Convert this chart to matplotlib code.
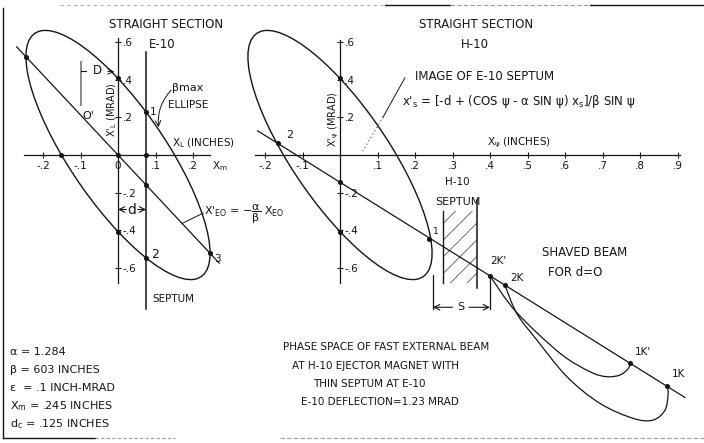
import numpy as np
import matplotlib
matplotlib.use("Agg")
import matplotlib.pyplot as plt
from matplotlib.patches import Ellipse, Rectangle, PathPatch
from matplotlib.path import Path
from matplotlib.lines import Line2D

plt.rcParams['font.family'] = ['DejaVu Sans']
plt.rcParams['mathtext.fontset'] = 'dejavusans'
plt.rcParams['mathtext.default'] = 'regular'
plt.rcParams['hatch.linewidth'] = 0.6

W, H = 704, 443
SX, SY = 375.0, 188.0      # pixels per inch, pixels per mrad
INK = '#151515'

# lattice at the straight sections
alpha = 1.284
beta_in = 603.0            # inches
emit = 0.1                 # inch-mrad
x_m = 0.245
d_c = 0.125
deflection = 1.23

# E-10 axes
e_xticks = [-0.2, -0.1, 0.0, 0.1, 0.2]
e_xlabels = ['-.2', '-.1', '0', '.1', '.2']
yticks = [0.6, 0.4, 0.2, -0.2, -0.4, -0.6]
ylabels = ['.6', '.4', '.2', '-.2', '-.4', '-.6']
septum_x = 0.075
septum_xp = [0.55, -0.82]

# H-10 axes
h_xticks = [-0.2, -0.1, 0.1, 0.2, 0.3, 0.4, 0.5, 0.6, 0.7, 0.8, 0.9]
h_xlabels = ['-.2', '-.1', '.1', '.2', '.3', '.4', '.5', '.6', '.7', '.8', '.9']
image_x = [-0.22, 0.92]
image_xp = [0.129, -1.290]
image_pts_x = [-0.165, 0.237]
image_pts_xp = [0.064, -0.447]
h_septum_x = [0.275, 0.365]
h_septum_xp = [-0.30, -0.68]
k_names = ["2K'", "2K", "1K'", "1K"]
k_x = [0.400, 0.440, 0.773, 0.872]
k_xp = [-0.643, -0.693, -1.107, -1.230]

# shaved beam after the kick
loop_kp_x = [0.400, 0.470, 0.587, 0.667, 0.711, 0.747, 0.769, 0.773]
loop_kp_xp = [-0.643, -0.835, -1.055, -1.153, -1.179, -1.170, -1.135, -1.107]
loop_k_x = [0.440, 0.472, 0.525, 0.605, 0.693, 0.782, 0.835, 0.867, 0.875, 0.872]
loop_k_xp = [-0.693, -0.845, -0.984, -1.179, -1.321, -1.401, -1.410, -1.356, -1.268, -1.230]

beta = beta_in / 1000.0    # inch per mrad
gamma = (1 + alpha ** 2) / beta

fig = plt.figure(figsize=(W / 100, H / 100), dpi=100)
fig.patch.set_facecolor('white')


def make_axes(x0, y0, xlim, ylim):
    # x0, y0: pixel position of the origin, measured from the top left
    left = x0 + xlim[0] * SX
    right = x0 + xlim[1] * SX
    top = y0 - ylim[1] * SY
    bottom = y0 - ylim[0] * SY
    ax = fig.add_axes([left / W, 1 - bottom / H, (right - left) / W, (bottom - top) / H])
    ax.set_xlim(xlim)
    ax.set_ylim(ylim)
    ax.patch.set_visible(False)
    for s in ['top', 'left']:
        ax.spines[s].set_visible(False)
    ax.spines['bottom'].set_position(('data', 0))
    ax.spines['right'].set_position(('data', 0))
    for s in ['bottom', 'right']:
        ax.spines[s].set_linewidth(0.9)
        ax.spines[s].set_color(INK)
    ax.xaxis.tick_bottom()
    ax.yaxis.tick_right()
    ax.tick_params(direction='inout', length=5, width=0.8, colors=INK,
                   labelsize=7.5, pad=2)
    ax.tick_params(axis='y', pad=1)
    return ax


def twiss_ellipse(ax):
    m = np.array([[gamma, alpha], [alpha, beta]]) / emit
    w, v = np.linalg.eigh(m)
    semi = 1 / np.sqrt(w)
    ang = np.degrees(np.arctan2(v[1, 0], v[0, 0]))
    ax.add_patch(Ellipse((0, 0), 2 * semi[0], 2 * semi[1], angle=ang,
                         fill=False, ec=INK, lw=1.0))


def ellipse_xp(x):
    # upper and lower x' of the ellipse at a given x
    r = np.sqrt(emit * beta - x ** 2)
    return (-alpha * x + r) / beta, (-alpha * x - r) / beta


def smooth(xs, ys):
    pts = np.column_stack([xs, ys])
    verts = [pts[0]]
    codes = [Path.MOVETO]
    for i in range(len(pts) - 1):
        p0 = pts[i - 1] if i > 0 else pts[i]
        p1, p2 = pts[i], pts[i + 1]
        p3 = pts[i + 2] if i + 2 < len(pts) else pts[i + 1]
        verts += [p1 + (p2 - p0) / 6, p2 - (p3 - p1) / 6, p2]
        codes += [Path.CURVE4] * 3
    return Path(verts, codes)


def put(x, y, s, size=7.5, ha='left', **kw):
    fig.text(x / W, 1 - y / H, s, fontsize=size, ha=ha, va='center', color=INK, **kw)


def frame_line(x0, y0, x1, y1, color=INK, lw=1.0, ls='-'):
    fig.add_artist(Line2D([x0 / W, x1 / W], [1 - y0 / H, 1 - y1 / H],
                          color=color, lw=lw, ls=ls, transform=fig.transFigure))


# ---------------- E-10 ----------------
ax_e = make_axes(118, 155, (-0.3, 0.3), (-1.5, 0.75))
ax_e.spines['bottom'].set_bounds(-0.25, 0.245)
ax_e.spines['right'].set_bounds(-0.68, 0.62)
ax_e.set_xticks(e_xticks, e_xlabels)
ax_e.set_yticks(yticks, ylabels)
twiss_ellipse(ax_e)

slope = -alpha / beta
ax_e.plot([-0.27, 0.27], [-0.27 * slope, 0.27 * slope], color=INK, lw=0.9)
ax_e.plot([septum_x, septum_x], septum_xp, color=INK, lw=1.1)

up, lo = ellipse_xp(septum_x)
xr = np.sqrt(emit * beta)
dots_x = [0, 0, 0, septum_x, septum_x, septum_x, xr, -xr, -np.sqrt(emit / gamma), septum_x]
dots_y = [0, ellipse_xp(0)[0], ellipse_xp(0)[1], up, lo, 0, -alpha * xr / beta,
          alpha * xr / beta, 0, slope * septum_x]
ax_e.plot(dots_x, dots_y, 'o', ms=2.6, color=INK)
ax_e.text(septum_x + 0.01, up, '1', fontsize=7.5, va='center', color=INK)
ax_e.text(septum_x + 0.012, lo + 0.02, '2', fontsize=9, va='center', color=INK)
ax_e.text(xr + 0.012, -alpha * xr / beta - 0.03, '3', fontsize=7.5, va='center', color=INK)

# D marker and O'
ax_e.plot([-0.099, -0.099], [0.266, 0.495], color='#8a8a8a', lw=1.4)
ax_e.plot([-0.099, -0.085], [0.447, 0.447], color=INK, lw=0.8)
ax_e.text(-0.056, 0.447, 'D', fontsize=8.5, ha='center', va='center', color=INK)
ax_e.annotate('', xy=(-0.002, 0.44), xytext=(-0.035, 0.447),
              arrowprops=dict(arrowstyle='->', lw=0.7, color=INK))
ax_e.text(-0.08, 0.21, "O'", fontsize=8, ha='center', va='center', color=INK)

# d dimension
d_level = -0.29
ax_e.text(septum_x / 2, d_level, 'd', fontsize=10, ha='center', va='center', color=INK)
for xe in (0.0, septum_x):
    ax_e.annotate('', xy=(xe, d_level), xytext=(septum_x / 2, d_level),
                  arrowprops=dict(arrowstyle='->', lw=0.8, color=INK, shrinkA=4, shrinkB=0))

# leaders
ax_e.annotate('', xy=(0.109, 0.133), xytext=(0.147, 0.356),
              arrowprops=dict(arrowstyle='->', lw=0.7, color=INK,
                              connectionstyle='arc3,rad=0.25'))
ax_e.plot([0.171, 0.227], [-0.364, -0.309], color=INK, lw=0.7)

ax_e.text(-0.016, 0.24, "X'$_L$ (MRAD)", rotation=90, fontsize=7, ha='center',
          va='center', color=INK)

# ---------------- H-10 ----------------
ax_h = make_axes(340, 155, (-0.3, 0.97), (-1.5, 0.75))
ax_h.spines['bottom'].set_bounds(-0.227, 0.907)
ax_h.spines['right'].set_bounds(-0.68, 0.61)
ax_h.set_xticks(h_xticks, h_xlabels)
ax_h.set_yticks(yticks, ylabels)
twiss_ellipse(ax_h)

ax_h.plot(image_x, image_xp, color=INK, lw=0.9)
ax_h.add_patch(Rectangle((h_septum_x[0], h_septum_xp[1]), h_septum_x[1] - h_septum_x[0],
                         h_septum_xp[0] - h_septum_xp[1], fill=False, hatch='//',
                         ec='#555555', lw=0))
ax_h.plot([h_septum_x[0]] * 2, h_septum_xp, color=INK, lw=1.0)
ax_h.plot([h_septum_x[1]] * 2, [-0.24, -0.71], color=INK, lw=1.1)

ax_h.add_patch(PathPatch(smooth(loop_kp_x, loop_kp_xp), fill=False, ec=INK, lw=0.9))
ax_h.add_patch(PathPatch(smooth(loop_k_x, loop_k_xp), fill=False, ec=INK, lw=0.9))

ax_h.plot(image_pts_x + k_x + [0, 0, 0], image_pts_xp + k_xp + [-0.145, ellipse_xp(0)[0],
          ellipse_xp(0)[1]], 'o', ms=2.6, color=INK)
ax_h.text(image_pts_x[0] + 0.02, image_pts_xp[0] + 0.04, '2', fontsize=8, va='center', color=INK)
ax_h.text(image_pts_x[1] + 0.01, image_pts_xp[1] + 0.04, '1', fontsize=6.5, va='center', color=INK)
k_dx = [0.0, 0.015, 0.012, 0.012]
k_dy = [0.05, 0.01, 0.03, 0.04]
for name, x, y, dx, dy in zip(k_names, k_x, k_xp, k_dx, k_dy):
    ax_h.text(x + dx, y + dy, name, fontsize=7.5, va='bottom', color=INK)

# S dimension
ax_h.plot([0.248, 0.248], [-0.64, -0.82], color=INK, lw=0.9)
ax_h.plot([k_x[0], k_x[0]], [k_xp[0], -0.82], color=INK, lw=0.9)
ax_h.text(0.322, -0.81, 'S', fontsize=8, ha='center', va='center', color=INK)
for xe in (0.248, k_x[0]):
    ax_h.annotate('', xy=(xe, -0.81), xytext=(0.322, -0.81),
                  arrowprops=dict(arrowstyle='->', lw=0.8, color=INK, shrinkA=6, shrinkB=0))

# leader to the septum image line
ax_h.plot([0.173, 0.115], [0.41, 0.202], color=INK, lw=0.7)
ax_h.plot([0.115, 0.059], [0.202, 0.016], color=INK, lw=0.7, ls=(0, (1, 3)))

ax_h.text(-0.016, 0.19, "X'$_ψ$ (MRAD)", rotation=90, fontsize=7, ha='center',
          va='center', color=INK)

# ---------------- lettering ----------------
put(166, 25, 'STRAIGHT SECTION', 8.5, 'center')
put(162, 45, 'E-10', 8.5, 'center')
put(172, 88, 'βmax', 8)
put(168, 105, 'ELLIPSE', 7.5)
put(172, 143, 'X$_L$ (INCHES)', 7.5)
put(212, 166, 'X$_m$', 7.5)
put(204, 214, r"X'$_{EO}$ = $-\dfrac{α}{β}$ X$_{EO}$", 8)
put(152, 299, 'SEPTUM', 7.5)

put(476, 25, 'STRAIGHT SECTION', 8.5, 'center')
put(475, 45, 'H-10', 8.5, 'center')
put(415, 77, 'IMAGE OF E-10 SEPTUM', 8.5)
put(402, 101, "x'$_s$ = [-d + (COS ψ - α SIN ψ) x$_s$]/β SIN ψ", 8.5)
put(487, 143, 'X$_ψ$ (INCHES)', 7.5)
put(457, 182, 'H-10', 7.5, 'center')
put(458, 202, 'SEPTUM', 8, 'center')
put(585, 253, 'SHAVED BEAM', 8.5, 'center')
put(548, 272, 'FOR d=O', 8.5)

put(10, 352, 'α = 1.284', 8)
put(10, 370, 'β = 603 INCHES', 8)
put(10, 388, 'ε  = .1 INCH-MRAD', 8)
put(10, 406, 'X$_m$ = .245 INCHES', 8)
put(10, 424, 'd$_c$ = .125 INCHES', 8)

put(386, 347, 'PHASE SPACE OF FAST EXTERNAL BEAM', 7.5, 'center')
put(375, 366, 'AT H-10 EJECTOR MAGNET WITH', 7.5, 'center')
put(369, 384, 'THIN SEPTUM AT E-10', 7.5, 'center')
put(380, 402, 'E-10 DEFLECTION=1.23 MRAD', 7.5, 'center')

# page border
frame_line(3, 8, 3, 438)
frame_line(3, 438, 95, 438)
frame_line(95, 438, 175, 438, '#9a9a9a', 0.8, (0, (3, 2)))
frame_line(280, 438, 704, 438, '#9a9a9a', 0.8, (0, (4, 2)))
frame_line(60, 5, 385, 5, '#b0b0b0', 0.8, (0, (3, 3)))
frame_line(385, 5, 450, 5, INK, 1.0)
frame_line(450, 5, 590, 5, '#9a9a9a', 0.8, (0, (4, 2)))
frame_line(590, 5, 704, 5, INK, 1.0)

fig.savefig('out.png', dpi=100, facecolor='white')
